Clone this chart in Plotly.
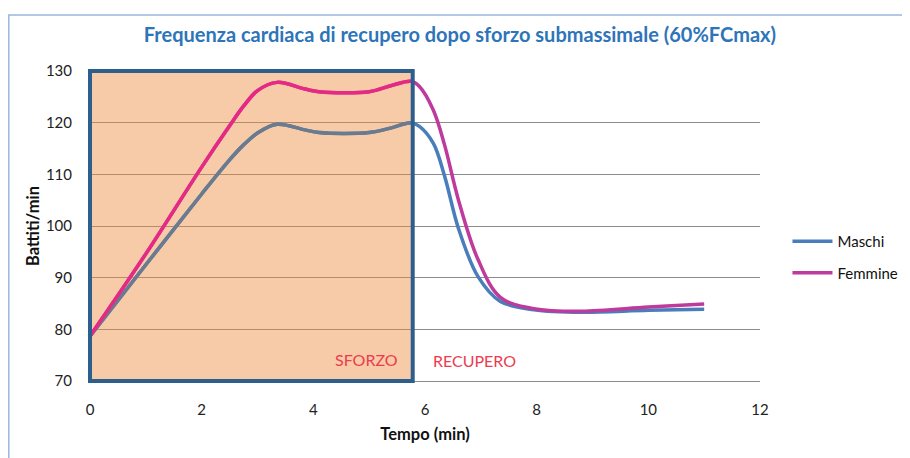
import plotly.graph_objects as go

# ---- data ----
tempo = [0, 1, 2, 2.5, 2.75, 3.0, 3.35, 3.85, 4.1, 5.0, 5.4, 5.75, 5.9, 6.15,
         6.35, 6.6, 6.95, 7.35, 7.95, 8.8, 10, 11]
maschi = [78.7, 92.5, 106.2, 112.8, 115.7, 118.0, 119.7, 118.6, 118.1, 118.1, 119.0,
          120.0, 119.3, 116.0, 109.7, 99.5, 90.2, 85.4, 83.8, 83.3, 83.7, 83.9]
femmine = [78.7, 94.6, 111.4, 119.4, 123.2, 126.2, 127.8, 126.5, 126.0, 126.0, 127.2,
           128.0, 127.0, 122.4, 115.7, 105.0, 93.5, 86.2, 84.0, 83.5, 84.3, 84.9]
sforzo_end = 5.78          # end of the effort phase (min)
x_range = [0, 12]
y_range = [70, 130]
x_ticks = [0, 2, 4, 6, 8, 10, 12]
y_ticks = [70, 80, 90, 100, 110, 120, 130]

title = "Frequenza cardiaca di recupero dopo sforzo submassimale (60%FCmax)"
FONT = "Lato"

c_m_out, c_f_out = "#4A7EBB", "#BE3A9C"
c_m_in, c_f_in = "#6C7A8E", "#E62A84"

W, H = 902, 450
L, R, T, B = 82, 150, 63, 77
PW, PH = W - L - R, H - T - B

fig = go.Figure()
fig.add_trace(go.Scatter(x=tempo, y=maschi, name="Maschi", mode="lines", legendgroup="m",
                         line=dict(color=c_m_out, width=3.5, shape="spline", smoothing=1.0)))
fig.add_trace(go.Scatter(x=tempo, y=femmine, name="Femmine", mode="lines", legendgroup="f",
                         line=dict(color=c_f_out, width=3.5, shape="spline", smoothing=1.0)))
# same traces seen through the shaded "SFORZO" box (clipped by x2 domain)
fig.add_trace(go.Scatter(x=tempo, y=maschi, mode="lines", showlegend=False, xaxis="x2", yaxis="y2",
                         line=dict(color=c_m_in, width=3.5, shape="spline", smoothing=1.0)))
fig.add_trace(go.Scatter(x=tempo, y=femmine, mode="lines", showlegend=False, xaxis="x2", yaxis="y2",
                         line=dict(color=c_f_in, width=3.5, shape="spline", smoothing=1.0)))

frac = (sforzo_end - x_range[0]) / (x_range[1] - x_range[0])

fig.update_layout(
    width=W, height=H,
    margin=dict(l=L, r=R, t=T, b=B, autoexpand=False),
    paper_bgcolor="white", plot_bgcolor="rgba(0,0,0,0)",
    font=dict(family=FONT, size=15, color="#222222"),
    title=dict(text="<b>" + title + "</b>", x=0.501, xref="container", xanchor="center",
               y=1 - 27 / H, yref="container", yanchor="middle",
               font=dict(family=FONT, size=20, color="#2E74B8")),
    xaxis=dict(range=x_range, tickvals=x_ticks, showgrid=False, zeroline=False,
               showline=True, linecolor="#8C8C8C", linewidth=1, ticks="",
               ticklabelstandoff=15,
               title=dict(text="<b>Tempo (min)</b>", font=dict(size=16.5, color="#111"), standoff=11)),
    yaxis=dict(range=y_range, tickvals=y_ticks, showgrid=True, gridcolor="#8C8C8C", gridwidth=1,
               zeroline=False, showline=False, ticks="", ticklabelstandoff=17,
               title=dict(text="<b>Battiti/min</b>", font=dict(size=16.5, color="#111"), standoff=2)),
    xaxis2=dict(domain=[0, frac], range=[x_range[0], sforzo_end], visible=False, anchor="y2"),
    yaxis2=dict(range=y_range, visible=False, anchor="x2", overlaying="y"),
    legend=dict(x=1.041, y=0.503, xanchor="left", yanchor="top", traceorder="grouped",
                tracegroupgap=9, itemwidth=40, font=dict(size=15, color="#111"),
                bgcolor="rgba(0,0,0,0)"),
    showlegend=True,
)

# shaded effort box (fill), between gridlines and traces
fig.add_shape(type="rect", xref="x", yref="y", x0=x_range[0], x1=sforzo_end,
              y0=y_range[0], y1=y_range[1], layer="between", line=dict(width=0),
              fillcolor="rgba(238,140,60,0.45)")
# box border
fig.add_shape(type="rect", xref="paper", yref="paper", x0=0, x1=frac, y0=0, y1=1,
              layer="above", line=dict(color="#2D5F8E", width=4), fillcolor="rgba(0,0,0,0)")
# outer chart frame
fig.add_shape(type="rect", xref="paper", yref="paper",
              x0=(0.8 - L) / PW, x1=(W + 10 - L) / PW, y0=-(B + 10) / PH, y1=(PH + T - 7) / PH,
              layer="above", line=dict(color="#9BB7DD", width=1.5), fillcolor="rgba(0,0,0,0)")

fig.add_annotation(x=4.96, y=74.2, text="SFORZO", showarrow=False,
                   font=dict(family=FONT, size=16, color="#EB3C50"))
fig.add_annotation(x=6.88, y=74.0, text="RECUPERO", showarrow=False,
                   font=dict(family=FONT, size=16, color="#EB3C50"))

fig.write_html("out.html")
